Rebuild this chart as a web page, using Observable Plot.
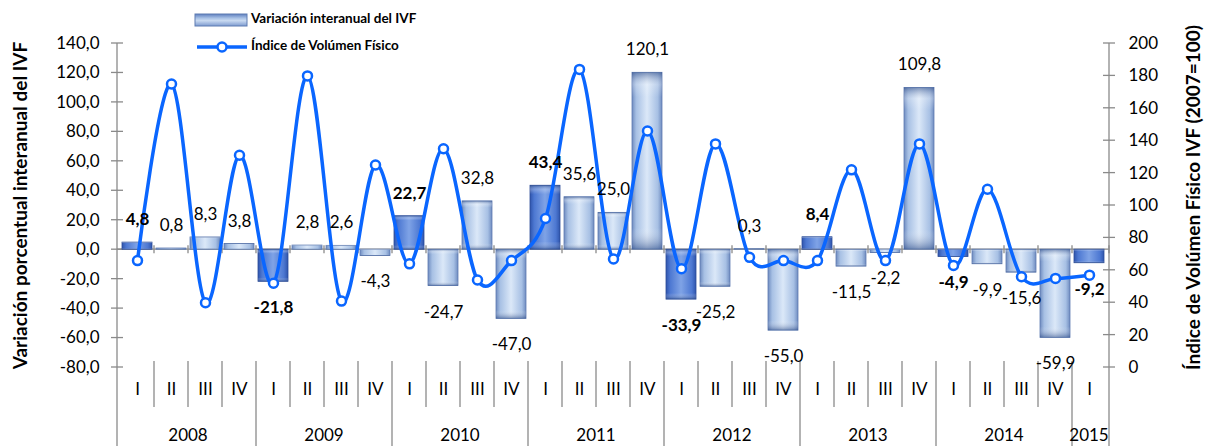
<!DOCTYPE html>
<html>
<head>
<meta charset="utf-8">
<script src="https://cdn.jsdelivr.net/npm/d3@7"></script>
<script src="https://cdn.jsdelivr.net/npm/@observablehq/plot@0.6"></script>
<style>
  body { margin: 0; background: #fff; }
</style>
</head>
<body>
<div id="chart"></div>
<script>
// ---------------- data ----------------
const years = ["2008", "2009", "2010", "2011", "2012", "2013", "2014", "2015"];
const quartersPerYear = [4, 4, 4, 4, 4, 4, 4, 1];
const quarterNames = ["I", "II", "III", "IV"];

// Variación porcentual interanual del IVF (left axis, bars)
const variacion = [
  4.8, 0.8, 8.3, 3.8,
  -21.8, 2.8, 2.6, -4.3,
  22.7, -24.7, 32.8, -47.0,
  43.4, 35.6, 25.0, 120.1,
  -33.9, -25.2, 0.3, -55.0,
  8.4, -11.5, -2.2, 109.8,
  -4.9, -9.9, -15.6, -59.9,
  -9.2
];

// Índice de Volúmen Físico IVF (2007=100) (right axis, line)
const ivf = [
  66, 175, 40, 131,
  52, 180, 41, 125,
  64, 135, 54, 66,
  92, 184, 67, 146,
  61, 138, 68, 66,
  66, 122, 66, 138,
  63, 110, 56, 55,
  57
];

const leftTicks = [-80, -60, -40, -20, 0, 20, 40, 60, 80, 100, 120, 140];
const rightTicks = [0, 20, 40, 60, 80, 100, 120, 140, 160, 180, 200];

const seriesBarName = "Variación interanual del IVF";
const seriesLineName = "Índice de Volúmen Físico";
const leftTitle = "Variación porcentual interanual del IVF";
const rightTitle = "Índice de Volúmen Físico IVF (2007=100)";

// ---------------- build rows ----------------
const rows = [];
years.forEach((yr, yi) => {
  for (let q = 0; q < quartersPerYear[yi]; q++) {
    const i = rows.length;
    rows.push({key: yr + "-" + quarterNames[q], year: yr, quarter: quarterNames[q], first: q === 0, v: variacion[i], ivf: ivf[i]});
  }
});
const keys = rows.map(d => d.key);

// secondary axis mapping: right 0..200 -> left -80..140
const toLeft = v => -80 + v * 1.1;
const fmt = v => v.toFixed(1).replace(".", ",");

const FONT = "Lato, 'Open Sans', sans-serif";
const GRAY = "#8a8a8a";
const BLUE = "#0a66ff";

// decoration mark: gradients, axis lines, crossing ticks, separators, year labels, legend
function decor(index, scales, values, dims) {
  const {x, y} = scales;
  const {width, height, marginLeft, marginRight} = dims;
  const xl = marginLeft, xr = width - marginRight;
  const bw = x.bandwidth(), step = x.step();
  const g = d3.create("svg:g");
  const defs = g.append("defs");
  const hg = (id, edge, mid, center) => {
    const lg = defs.append("linearGradient").attr("id", id).attr("x1", 0).attr("x2", 1).attr("y1", 0).attr("y2", 0);
    [[0, edge], [0.14, mid], [0.5, center], [0.86, mid], [1, edge]].forEach(([o, c]) => lg.append("stop").attr("offset", o).attr("stop-color", c));
  };
  hg("gLight", "#6f8cc0", "#a7c0e4", "#dbe8f8");
  hg("gDark", "#2f55ad", "#4d78d2", "#7fa3e6");
  const vg = defs.append("linearGradient").attr("id", "gVert").attr("x1", 0).attr("x2", 0).attr("y1", 0).attr("y2", 1);
  [[0, "rgba(40,70,130,0.55)"], [0.07, "rgba(255,255,255,0.25)"], [0.14, "rgba(255,255,255,0)"], [0.88, "rgba(255,255,255,0)"], [1, "rgba(40,70,130,0.55)"]]
    .forEach(([o, c]) => vg.append("stop").attr("offset", o).attr("stop-color", c));
  const lgv = defs.append("linearGradient").attr("id", "gLegend").attr("x1", 0).attr("x2", 0).attr("y1", 0).attr("y2", 1);
  [[0, "#5e7fbf"], [0.35, "#a9c2e6"], [0.55, "#c9daf1"], [1, "#7d9bd0"]]
    .forEach(([o, c]) => lgv.append("stop").attr("offset", o).attr("stop-color", c));

  const line = (x1, y1, x2, y2) => g.append("line").attr("x1", x1).attr("y1", y1).attr("x2", x2).attr("y2", y2)
    .attr("stroke", GRAY).attr("stroke-width", 1.3);
  const yTop = y(140), yBot = y(-80), y0 = y(0);
  // axis lines
  line(xl, yTop, xl, height);
  line(xr, yTop, xr, height);
  // crossing ticks
  leftTicks.forEach(t => line(xl - 6, y(t), xl + 6, y(t)));
  rightTicks.forEach(t => line(xr - 6, y(toLeft(t)), xr + 6, y(toLeft(t))));
  // zero line with boundary ticks
  line(xl, y0, xr, y0);
  const gap = (step - bw) / 2;
  keys.forEach((k, i) => { if (i > 0) line(x(k) - gap, y0 - 4, x(k) - gap, y0 + 4); });
  line(xr, y0 - 4, xr, y0 + 4);
  // category separators
  rows.forEach((d, i) => {
    if (i === 0) return;
    const bx = x(d.key) - gap;
    line(bx, yBot - 6, bx, d.first ? height : yBot + 40);
  });
  // year labels
  years.forEach(yr => {
    const ks = rows.filter(d => d.year === yr).map(d => d.key);
    const cx = (x(ks[0]) + x(ks[ks.length - 1]) + bw) / 2;
    g.append("text").attr("x", cx).attr("y", yBot + 70).attr("text-anchor", "middle").attr("dominant-baseline", "middle")
      .attr("fill", "#000").style("font-size", "17px").text(yr);
  });
  // legend (top, above the frame)
  const lx = xl + 78;
  const lg = g.append("g").style("font-size", "13.5px").style("font-weight", "bold").attr("fill", "#000").attr("text-anchor", "start");
  lg.append("rect").attr("x", lx).attr("y", 14).attr("width", 52).attr("height", 12)
    .attr("fill", "url(#gLegend)").attr("stroke", "#5f7cb2").attr("stroke-width", 1);
  lg.append("text").attr("x", lx + 56).attr("y", 20).attr("text-anchor", "start").attr("dominant-baseline", "middle").text(seriesBarName);
  lg.append("line").attr("x1", lx + 2).attr("x2", lx + 52).attr("y1", 47).attr("y2", 47).attr("stroke", BLUE).attr("stroke-width", 3.5);
  lg.append("circle").attr("cx", lx + 27).attr("cy", 47).attr("r", 4.5).attr("fill", "white").attr("stroke", BLUE).attr("stroke-width", 2.5);
  lg.append("text").attr("x", lx + 56).attr("y", 47).attr("text-anchor", "start").attr("dominant-baseline", "middle").text(seriesLineName);
  return g.node();
}

const barBase = {x: "key", y: "v"};
const pos = rows.filter(d => d.v >= 0), neg = rows.filter(d => d.v < 0);

const chart = Plot.plot({
  width: 1210,
  height: 446,
  marginLeft: 117,
  marginRight: 101,
  marginTop: 43,
  marginBottom: 79,
  style: {fontFamily: FONT, fontSize: "17px", color: "#000", background: "#fff", overflow: "visible"},
  x: {domain: keys, paddingInner: 0.12, paddingOuter: 0.06, axis: null},
  y: {domain: [-80, 140], axis: null},
  marks: [
    decor,
    // bars
    Plot.barY(rows.filter(d => !d.first), {...barBase, fill: "url(#gLight)", stroke: "#5f7cb2", strokeWidth: 0.8}),
    Plot.barY(rows.filter(d => d.first), {...barBase, fill: "url(#gDark)", stroke: "#2b4c98", strokeWidth: 0.8}),
    Plot.barY(rows, {...barBase, fill: "url(#gVert)"}),
    // left axis labels
    Plot.axisY(leftTicks, {anchor: "left", label: null, tickSize: 0, tickPadding: 18, tickFormat: fmt, fontSize: 17}),
    // right axis labels (secondary scale)
    Plot.axisY(rightTicks.map(toLeft), {anchor: "right", label: null, tickSize: 0, tickPadding: 19, tickFormat: t => String(Math.round((t + 80) / 1.1)), fontSize: 17}),
    // quarter labels
    Plot.text(rows, {x: "key", text: "quarter", frameAnchor: "bottom", dy: 27, fontSize: 17}),
    // axis titles
    Plot.text([leftTitle], {text: d => d, frameAnchor: "left", textAnchor: "middle", lineAnchor: "middle", rotate: -90, dx: -97, fontWeight: "bold", fontSize: 19}),
    Plot.text([rightTitle], {text: d => d, frameAnchor: "right", textAnchor: "middle", lineAnchor: "middle", rotate: -90, dx: 84, dy: -8, fontWeight: "bold", fontSize: 19}),
    // IVF line
    Plot.line(rows, {x: "key", y: d => toLeft(d.ivf), curve: "cardinal", stroke: BLUE, strokeWidth: 3.5}),
    Plot.dot(rows, {x: "key", y: d => toLeft(d.ivf), r: 4.5, fill: "white", stroke: BLUE, strokeWidth: 2.5}),
    // value labels
    Plot.text(pos.filter(d => !d.first), {x: "key", y: "v", text: d => fmt(d.v), dy: -23, fontSize: 17}),
    Plot.text(pos.filter(d => d.first), {x: "key", y: "v", text: d => fmt(d.v), dy: -23, fontSize: 17, fontWeight: "bold"}),
    Plot.text(neg.filter(d => !d.first), {x: "key", y: "v", text: d => fmt(d.v), dy: 26, fontSize: 17}),
    Plot.text(neg.filter(d => d.first), {x: "key", y: "v", text: d => fmt(d.v), dy: 26, fontSize: 17, fontWeight: "bold"})
  ]
});
document.getElementById("chart").appendChild(chart);
</script>
</body>
</html>
